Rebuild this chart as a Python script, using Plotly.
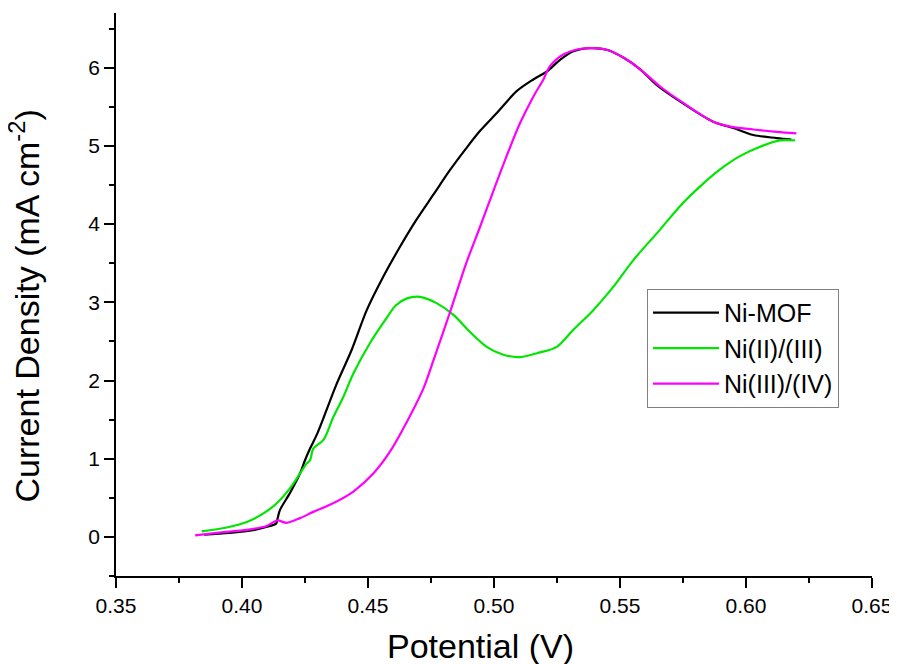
import plotly.graph_objects as go

# Ni-MOF
mof_x = [0.385, 0.395, 0.405, 0.410, 0.4135, 0.414, 0.415, 0.419, 0.423, 0.425, 0.427, 0.430,
         0.4376, 0.4435, 0.4495, 0.4561, 0.4627, 0.4693, 0.476, 0.4825, 0.4885, 0.4944, 0.5011,
         0.509, 0.5156, 0.5209, 0.5262, 0.5315, 0.538, 0.5447, 0.5513, 0.558, 0.5645, 0.5738,
         0.587, 0.595, 0.6029, 0.6122, 0.618]
mof_y = [0.03, 0.05, 0.09, 0.13, 0.17, 0.22, 0.34, 0.56, 0.81, 0.98, 1.13, 1.33,
         1.96, 2.39, 2.90, 3.33, 3.71, 4.06, 4.38, 4.69, 4.95, 5.19, 5.42,
         5.70, 5.85, 5.95, 6.10, 6.21, 6.25, 6.23, 6.13, 5.98, 5.78, 5.57,
         5.31, 5.23, 5.14, 5.10, 5.08]

# Ni(II)/(III)
n23_x = [0.384, 0.394, 0.4019, 0.4085, 0.4138, 0.419, 0.423, 0.4257, 0.427, 0.4283, 0.4323,
         0.4362, 0.4402, 0.4442, 0.4508, 0.4574, 0.461, 0.4655, 0.4706, 0.4772, 0.4839, 0.4905,
         0.4971, 0.5037, 0.5103, 0.5183, 0.5249, 0.5315, 0.5394, 0.5474, 0.5553, 0.5659, 0.5738,
         0.5817, 0.5897, 0.5976, 0.6056, 0.6135, 0.6195]
n23_y = [0.07, 0.12, 0.19, 0.30, 0.43, 0.62, 0.81, 0.94, 0.98, 1.13, 1.24,
         1.53, 1.79, 2.09, 2.48, 2.80, 2.96, 3.05, 3.07, 2.99, 2.84, 2.62,
         2.43, 2.33, 2.30, 2.36, 2.43, 2.65, 2.90, 3.20, 3.54, 3.93, 4.23,
         4.48, 4.70, 4.87, 4.99, 5.07, 5.07]

# Ni(III)/(IV)
n34_x = [0.3814, 0.3926, 0.4019, 0.4098, 0.414, 0.4177, 0.423, 0.4283, 0.4349, 0.4442, 0.4521,
         0.4587, 0.4667, 0.472, 0.476, 0.4825, 0.4892, 0.4944, 0.4997, 0.505, 0.5103, 0.5156,
         0.5196, 0.5222, 0.5275, 0.5341, 0.5394, 0.5447, 0.5513, 0.558, 0.5659, 0.5751, 0.587,
         0.5950, 0.6029, 0.6122, 0.620]
n34_y = [0.02, 0.06, 0.09, 0.14, 0.21, 0.18, 0.24, 0.32, 0.41, 0.58, 0.81,
         1.09, 1.55, 1.90, 2.26, 2.87, 3.52, 3.96, 4.42, 4.87, 5.29, 5.63,
         5.85, 6.02, 6.17, 6.24, 6.25, 6.23, 6.13, 5.98, 5.76, 5.55, 5.31,
         5.24, 5.21, 5.18, 5.16]

x_ticks = [0.35, 0.40, 0.45, 0.50, 0.55, 0.60, 0.65]
x_ticklabels = ["0.35", "0.40", "0.45", "0.50", "0.55", "0.60", "0.65"]
y_ticks = [0, 1, 2, 3, 4, 5, 6]

x_title = "Potential (V)"
y_title = "Current Density (mA cm<sup>-2</sup>)"

FONT = "Arial, 'Liberation Sans', sans-serif"

fig = go.Figure()
series = [
    ("Ni-MOF", mof_x, mof_y, "#000000"),
    ("Ni(II)/(III)", n23_x, n23_y, "#00E600"),
    ("Ni(III)/(IV)", n34_x, n34_y, "#FF00FF"),
]
for i, (name, xs, ys, col) in enumerate(series):
    fig.add_trace(go.Scatter(
        x=xs, y=ys, mode="lines", name=name,
        line=dict(color=col, width=2.2, shape="spline", smoothing=0.9),
    ))

axis_common = dict(
    showgrid=False, zeroline=False, showline=True, linecolor="black", linewidth=1.8,
    ticks="outside", ticklen=10, tickwidth=1.8, tickcolor="black",
    mirror=False, automargin=False,
    tickfont=dict(family=FONT, size=21, color="black"),
)

fig.update_layout(
    width=889, height=656,
    paper_bgcolor="white", plot_bgcolor="white",
    margin=dict(l=108, r=25, t=5, b=88),
    font=dict(family=FONT, color="black"),
    xaxis=dict(
        range=[0.35, 0.65], tickvals=x_ticks, ticktext=x_ticklabels,
        minor=dict(ticks="outside", ticklen=5, tickwidth=1.8, tickcolor="black", dtick=0.025, tick0=0.35),
        **axis_common,
    ),
    yaxis=dict(
        range=[-0.5, 6.7], tickvals=y_ticks,
        minor=dict(ticks="outside", ticklen=5, tickwidth=1.8, tickcolor="black", dtick=0.5, tick0=0),
        **axis_common,
    ),
    legend=dict(
        x=0.7024, y=0.51, xanchor="left", yanchor="top",
        bordercolor="#808080", borderwidth=1, bgcolor="white",
        font=dict(family=FONT, size=25, color="black"),
        tracegroupgap=0, itemwidth=66,
    ),
    showlegend=True,
    annotations=[
        dict(text=x_title, xref="paper", yref="paper", x=0.4815, y=-0.1243,
             xanchor="center", yanchor="middle", showarrow=False,
             font=dict(family=FONT, size=34, color="black")),
        dict(text=y_title, xref="paper", yref="paper", x=-0.1210, y=0.4796,
             xanchor="center", yanchor="middle", showarrow=False, textangle=-90,
             font=dict(family=FONT, size=34, color="black")),
    ],
)

fig.write_html("out.html")
